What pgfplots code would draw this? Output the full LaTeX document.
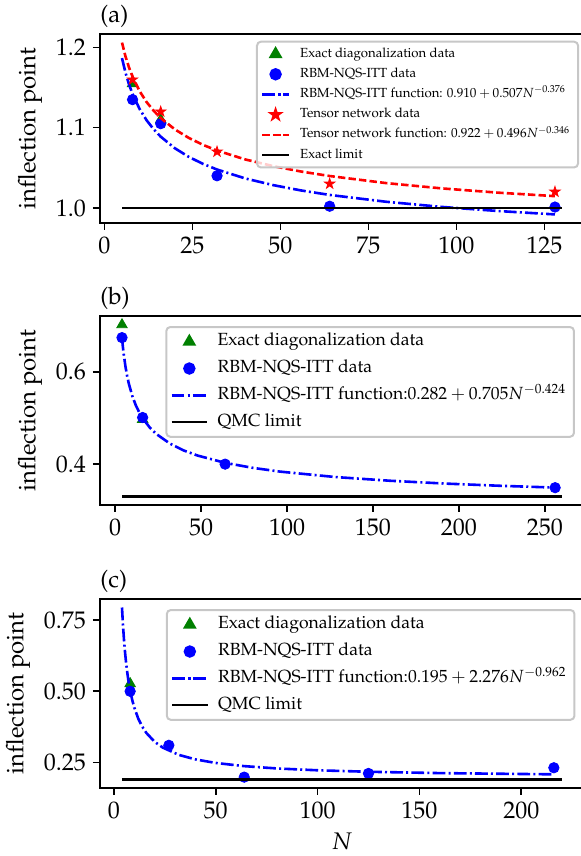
\documentclass[border=0pt]{standalone}
\usepackage[T1]{fontenc}
\usepackage{mathpazo}
\usepackage{pgfplots}
\pgfplotsset{compat=1.18}

\definecolor{mplgreen}{rgb}{0,0.5,0}
\definecolor{legframe}{gray}{0.78}

% filled five-pointed star, like matplotlib's '*'
\pgfdeclareplotmark{fstar}{%
  \pgfpathmoveto{\pgfpointpolar{90}{\pgfplotmarksize}}%
  \pgfpathlineto{\pgfpointpolar{126}{0.382\pgfplotmarksize}}%
  \pgfpathlineto{\pgfpointpolar{162}{\pgfplotmarksize}}%
  \pgfpathlineto{\pgfpointpolar{198}{0.382\pgfplotmarksize}}%
  \pgfpathlineto{\pgfpointpolar{234}{\pgfplotmarksize}}%
  \pgfpathlineto{\pgfpointpolar{270}{0.382\pgfplotmarksize}}%
  \pgfpathlineto{\pgfpointpolar{306}{\pgfplotmarksize}}%
  \pgfpathlineto{\pgfpointpolar{342}{0.382\pgfplotmarksize}}%
  \pgfpathlineto{\pgfpointpolar{18}{\pgfplotmarksize}}%
  \pgfpathlineto{\pgfpointpolar{54}{0.382\pgfplotmarksize}}%
  \pgfpathclose
  \pgfusepathqfillstroke}

\pgfplotsset{
  panel/.style={
    scale only axis, width=242pt, height=94.5pt, anchor=south west,
    clip mode=individual,
    axis line style={line width=0.8pt},
    tick align=outside, xtick pos=bottom, ytick pos=left,
    major tick length=3.5pt,
    every tick/.style={black, line width=0.8pt},
    tick label style={font=\fontsize{12}{14}\selectfont},
    label style={font=\fontsize{12}{14}\selectfont},
    ylabel={inflection point},
    legend cell align=left,
    legend style={anchor=north west, draw=legframe, line width=1pt,
      rounded corners=2pt, fill=white, fill opacity=0.8, draw opacity=1,
      text opacity=1, inner xsep=2pt, inner ysep=2.5pt},
  },
  ed/.style={only marks, mark=triangle*, mark size=3pt, color=mplgreen,
    mark options={solid, fill=mplgreen, draw=mplgreen}},
  rbm/.style={only marks, mark=*, mark size=2.6pt, color=blue,
    mark options={solid, fill=blue, draw=blue}},
  tn/.style={only marks, mark=fstar, mark size=2.7pt, color=red,
    mark options={solid, fill=red, draw=red}},
  rbmfit/.style={no marks, blue, line width=1.3pt,
    dash pattern=on 6.4pt off 1.6pt on 1pt off 1.6pt},
  tnfit/.style={no marks, red, line width=1.3pt,
    dash pattern=on 3.7pt off 1.6pt},
  limit/.style={no marks, black, line width=1.3pt},
  biglegend/.style={
    legend style={font=\fontsize{8.8}{10}\selectfont, row sep=3.7pt,
      nodes={inner ysep=0.5pt, text height=6.4pt, text depth=2.3pt},
      /tikz/every odd column/.append style={column sep=2.6pt}},
    legend image code/.code={%
      \draw[mark repeat=2,mark phase=2,fill opacity=1,draw opacity=1,##1]
        plot coordinates {(0pt,0pt) (8.85pt,0pt) (17.7pt,0pt)};},
  },
}

\begin{document}
\begin{tikzpicture}
\useasboundingbox (0,0) rectangle (290pt,428pt);

% ---------------- (a)
\begin{axis}[panel, at={(50pt,316.5pt)},
  xmin=-1.25, xmax=136.25, ymin=0.9811, ymax=1.2169,
  xtick={0,25,50,75,100,125}, ytick={1.0,1.1,1.2},
  yticklabel style={/pgf/number format/.cd,fixed,fixed zerofill,precision=1},
  legend style={at={(0.3223,0.9646)}, font=\fontsize{6.6}{7.5}\selectfont,
    row sep=2.7pt, nodes={inner ysep=0.4pt, text height=4.8pt, text depth=1.8pt},
    /tikz/every odd column/.append style={column sep=3pt}},
  legend image code/.code={%
    \draw[mark repeat=2,mark phase=2,fill opacity=1,draw opacity=1,#1]
      plot coordinates {(0pt,0pt) (6.65pt,0pt) (13.3pt,0pt)};},
]
\addplot[ed] coordinates {(8,1.155) (16,1.110)};
\addlegendentry{Exact diagonalization data}
\addplot[rbm] coordinates {(8,1.135) (16,1.105) (32,1.040) (64,1.002) (128,1.001)};
\addlegendentry{RBM-NQS-ITT data}
\addplot[rbmfit] coordinates {
  (5,1.1868) (6,1.1685) (7,1.1539) (8,1.1420) (10,1.1233) (12,1.1092)
  (14,1.0980) (16,1.0888) (20,1.0744) (24,1.0635) (28,1.0549) (32,1.0478)
  (40,1.0367) (48,1.0283) (56,1.0216) (64,1.0161) (80,1.0076) (96,1.0011)
  (112,0.9960) (128,0.9918)};
\addlegendentry{RBM-NQS-ITT function: $0.910+0.507N^{-0.376}$}
\addplot[tn] coordinates {(8,1.160) (16,1.120) (32,1.070) (64,1.030) (128,1.020)};
\addlegendentry{Tensor network data}
\addplot[tnfit] coordinates {
  (5,1.2062) (6,1.1888) (7,1.1750) (8,1.1636) (10,1.1456) (12,1.1319)
  (14,1.1211) (16,1.1121) (20,1.0979) (24,1.0872) (28,1.0786) (32,1.0715)
  (40,1.0604) (48,1.0520) (56,1.0452) (64,1.0397) (80,1.0309) (96,1.0242)
  (112,1.0189) (128,1.0146)};
\addlegendentry{Tensor network function: $0.922+0.496N^{-0.346}$}
\addplot[limit] coordinates {(5,1.0) (130,1.0)};
\addlegendentry{Exact limit}
\node[anchor=south west, inner sep=0pt, yshift=3pt,
  font=\fontsize{12}{14}\selectfont] at (rel axis cs:0,1) {(a)};
\end{axis}

% ---------------- (b)
\begin{axis}[panel, biglegend, at={(50pt,175.5pt)},
  xmin=-8.8, xmax=272.8, ymin=0.3115, ymax=0.7209,
  xtick={0,50,100,150,200,250}, ytick={0.4,0.6},
  yticklabel style={/pgf/number format/.cd,fixed,fixed zerofill,precision=1},
  legend style={at={(0.135,0.947)}},
]
\addplot[ed] coordinates {(4,0.702) (16,0.497)};
\addlegendentry{Exact diagonalization data}
\addplot[rbm] coordinates {(4,0.674) (16,0.501) (64,0.400) (256,0.349)};
\addlegendentry{RBM-NQS-ITT data}
\addplot[rbmfit] coordinates {
  (4,0.6737) (4.5,0.6546) (5,0.6383) (6,0.6118) (7,0.5909) (8,0.5739)
  (10,0.5476) (12,0.5278) (14,0.5123) (16,0.4996) (20,0.4800) (24,0.4652)
  (32,0.4442) (40,0.4295) (48,0.4186) (64,0.4028) (80,0.3920) (96,0.3838)
  (128,0.3721) (160,0.3640) (192,0.3579) (224,0.3531) (256,0.3492)};
\addlegendentry{RBM-NQS-ITT function:$0.282+0.705N^{-0.424}$}
\addplot[limit] coordinates {(4,0.330) (260,0.330)};
\addlegendentry{QMC limit}
\node[anchor=south west, inner sep=0pt, yshift=3pt,
  font=\fontsize{12}{14}\selectfont] at (rel axis cs:0,1) {(b)};
\end{axis}

% ---------------- (c)
\begin{axis}[panel, biglegend, at={(50pt,34pt)},
  xmin=-6.8, xmax=230.8, ymin=0.1598, ymax=0.8247,
  xtick={0,50,100,150,200}, ytick={0.25,0.5,0.75},
  yticklabel style={/pgf/number format/.cd,fixed,fixed zerofill,precision=2},
  xlabel={$N$},
  legend style={at={(0.136,0.947)}},
]
\addplot[ed] coordinates {(8,0.527)};
\addlegendentry{Exact diagonalization data}
\addplot[rbm] coordinates {(8,0.500) (27,0.310) (64,0.198) (125,0.211) (216,0.231)};
\addlegendentry{RBM-NQS-ITT data}
\addplot[rbmfit] coordinates {
  (4,0.7948) (4.5,0.7305) (5,0.6789) (5.5,0.6365) (6,0.6010) (6.5,0.5710)
  (7,0.5450) (7.5,0.5227) (8,0.5030) (9,0.4700) (10,0.4435) (12,0.4036)
  (14,0.3748) (16,0.3531) (20,0.3225) (24,0.3020) (32,0.2761) (40,0.2605)
  (50,0.2479) (64,0.2367) (80,0.2286) (100,0.2221) (125,0.2169)
  (160,0.2122) (216,0.2079)};
\addlegendentry{RBM-NQS-ITT function:$0.195+2.276N^{-0.962}$}
\addplot[limit] coordinates {(4,0.190) (220,0.190)};
\addlegendentry{QMC limit}
\node[anchor=south west, inner sep=0pt, yshift=3pt,
  font=\fontsize{12}{14}\selectfont] at (rel axis cs:0,1) {(c)};
\end{axis}
\end{tikzpicture}
\end{document}
